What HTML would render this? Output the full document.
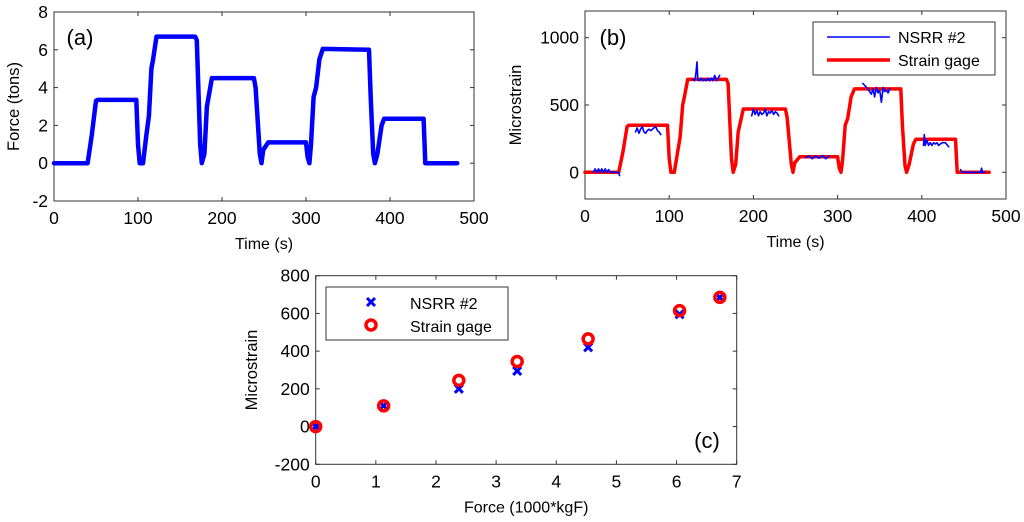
<!DOCTYPE html>
<html><head><meta charset="utf-8"><style>
html,body{margin:0;padding:0;background:#fff;}
svg{display:block;font-family:"Liberation Sans",Arial,sans-serif;}
</style></head><body>
<svg id="fig" width="1024" height="522" viewBox="0 0 1024 522" xmlns="http://www.w3.org/2000/svg"></svg>
<script>
// ---- data ----
const forceT = [0,40,42,45,50,52,98,100,102,106,110,113,116,118,122,168,170,174,176,179,182,188,238,240,245,247,249,255,300,302,304,306,309,312,316,320,375,377,380,382,385,390,393,440,442,480];
const forceV = [0,0,0.6,1.5,3.3,3.35,3.35,1,0,0,1.5,2.5,5,5.5,6.7,6.7,6.5,1,0,0.5,3,4.5,4.5,4,0.5,0,0.7,1.1,1.1,0.3,0,1,3.5,4,5.5,6.05,6.0,3.5,0.5,0,0.5,2.0,2.35,2.35,0,0];
const gageT = [0,40,42,45,50,52,98,100,102,106,110,113,116,118,122,168,170,174,176,179,182,188,238,240,245,247,249,255,300,302,304,306,309,312,316,320,375,377,380,382,385,390,393,440,442,480];
const gageV = [0,0,60,150,340,350,350,100,0,0,150,260,500,560,690,690,660,100,0,60,300,470,470,410,60,0,70,115,115,30,0,100,350,400,560,620,620,350,50,0,60,210,245,245,0,0];
const nsrrSegT = [
 [10,12,14,16,18,20,22,24,26,28,30,32,40,41],
 [60,62,64,66,68,70,72,74,76,78,80,82,84,86,88,90],
 [128,130,131,132,133,134,136,138,140,142,144,146,148,150,152,154,156,158,160],
 [198,200,202,204,206,208,210,212,214,216,218,220,222,224,226,228,230],
 [262,266,270,274,278,282,286,290],
 [330,333,336,338,340,342,344,346,348,350,352,354,356,358,360,362],
 [402,403,404,406,408,410,412,414,416,418,420,424,428,432],
 [446,448,452,456,460,464,468,470,471,472,475]];
const nsrrSegV = [
 [0,25,0,25,0,25,0,25,0,20,0,0,0,-25],
 [300,330,290,320,340,300,290,310,320,310,320,330,340,310,300,280],
 [690,680,700,750,820,690,680,700,680,690,680,700,680,700,680,720,680,700,720],
 [420,470,430,460,420,450,430,440,470,420,450,440,460,430,450,440,420],
 [110,120,100,120,105,125,100,120],
 [660,640,620,600,580,620,560,630,590,610,520,630,600,610,590,620],
 [200,280,200,240,200,220,200,220,210,220,200,220,220,190],
 [20,0,0,0,0,0,0,0,30,0,0]];
const scX = [0,1.13,2.38,3.35,4.53,6.05,6.72];
const scNsrr = [0,110,200,295,420,595,685];
const scGage = [0,110,245,345,465,615,685];
const tTicks = [0,100,200,300,400,500];
const aTicks = [-2,0,2,4,6,8];
const bTicks = [0,500,1000];
const cxTicks = [0,1,2,3,4,5,6,7];
const cyTicks = [-200,0,200,400,600,800];

const NS="http://www.w3.org/2000/svg";
const svg=document.getElementById('fig');
function mk(tag,attrs,parent){const e=document.createElementNS(NS,tag);for(const k in attrs)e.setAttribute(k,attrs[k]);(parent||svg).appendChild(e);return e;}
function txt(s,x,y,size,anchor,parent){const t=mk('text',{x:x,y:y,'font-size':size,'text-anchor':anchor||'middle',fill:'#000'},parent);t.textContent=s;return t;}
function lin(d0,d1,r0,r1){return v=>r0+(v-d0)/(d1-d0)*(r1-r0);}

function axes(name,L,R,T,B,X,Y,xt,yt,xlab,ylab,yfmt){
  const g=mk('g',{});
  
  
  const box=mk('rect',{x:L,y:T,width:R-L,height:B-T,fill:'none',stroke:'#333','stroke-width':1},g);
  
  
  xt.forEach(v=>{const x=X(v);
    mk('line',{x1:x,y1:B,x2:x,y2:B-4,stroke:'#333'},g);mk('line',{x1:x,y1:T,x2:x,y2:T+4,stroke:'#333'},g);
    const t=txt(String(v),x,B+23,17.5,'middle',g);
    
    });
  yt.forEach(v=>{const y=Y(v);
    mk('line',{x1:L,y1:y,x2:L+4,y2:y,stroke:'#333'},g);mk('line',{x1:R,y1:y,x2:R-4,y2:y,stroke:'#333'},g);
    const t=txt(String(v),L-6,y+6,17.5,'end',g);
    
    });
  const xl=txt(xlab,(L+R)/2,B+48,16,'middle',g);
  
  
  const yl=txt(ylab,0,0,16.5,'middle',g);
  yl.setAttribute('transform','translate('+(yfmt)+','+((T+B)/2)+') rotate(-90)');
  
  
  return g;
}
function poly(xs,ys,X,Y,color,w,parent){
  const pts=xs.map((x,i)=>X(x).toFixed(1)+','+Y(ys[i]).toFixed(1)).join(' ');
  return mk('polyline',{points:pts,fill:'none',stroke:color,'stroke-width':w,'stroke-linejoin':'round','stroke-linecap':'round'},parent);
}

// Panel a
const aX=lin(0,500,54,474), aY=lin(-2,8,201,12);
const ga=axes('force-panel',54,474,12,201,aX,aY,tTicks,aTicks,'Time (s)','Force (tons)',19);
const pa=poly(forceT,forceV,aX,aY,'#0000ff',4.5,ga);


const la=txt('(a)',80,45,22,'middle',ga);



// Panel b
const bX=lin(0,500,585,1006), bY=lin(-200,1200,199.2,10.8);
const gb=axes('strain-panel',585,1006,11,199,bX,bY,tTicks,bTicks,'Time (s)','Microstrain',521);
const pg=poly(gageT,gageV,bX,bY,'#ff0000',3.5,gb);


nsrrSegT.forEach((ts,i)=>{const p=poly(ts,nsrrSegV[i],bX,bY,'#0000ff',1.6,gb);
  
  });
const lb=txt('(b)',613,45,22,'middle',gb);


const legb=mk('g',{},gb);


mk('rect',{x:813,y:22,width:182,height:53,fill:'#fff',stroke:'#333'},legb);
mk('line',{x1:827,y1:37,x2:890,y2:37,stroke:'#0000ff','stroke-width':1.6},legb);
mk('line',{x1:827,y1:60,x2:890,y2:60,stroke:'#ff0000','stroke-width':3.5},legb);
txt('NSRR #2',898,43,16,'start',legb);
txt('Strain gage',898,66,16,'start',legb);

// Panel c
const cX=lin(0,7,315.7,736.7), cY=lin(-200,800,464.3,275.7);
const gc=axes('scatter-panel',315.7,736.7,275.7,464.3,cX,cY,cxTicks,cyTicks,'Force (1000*kgF)','Microstrain',257);
scX.forEach((v,i)=>{const x=cX(v),y=cY(scNsrr[i]);
  const m=mk('path',{d:`M${x-4},${y-4}L${x+4},${y+4}M${x-4},${y+4}L${x+4},${y-4}`,stroke:'#0000ff','stroke-width':3},gc);
  
  });
scX.forEach((v,i)=>{
  const c=mk('circle',{cx:cX(v),cy:cY(scGage[i]),r:5,fill:'none',stroke:'#ff0000','stroke-width':3.5},gc);
  
  });
const lc=txt('(c)',707,448,22,'middle',gc);


const legc=mk('g',{},gc);


mk('rect',{x:326,y:287,width:182,height:53,fill:'#fff',stroke:'#333'},legc);
mk('path',{d:'M367,298L375,306M367,306L375,298',stroke:'#0000ff','stroke-width':3},legc);
mk('circle',{cx:371,cy:325,r:5,fill:'none',stroke:'#ff0000','stroke-width':3.5},legc);
txt('NSRR #2',410,309,16,'start',legc);
txt('Strain gage',410,332,16,'start',legc);
</script>
</body></html>
